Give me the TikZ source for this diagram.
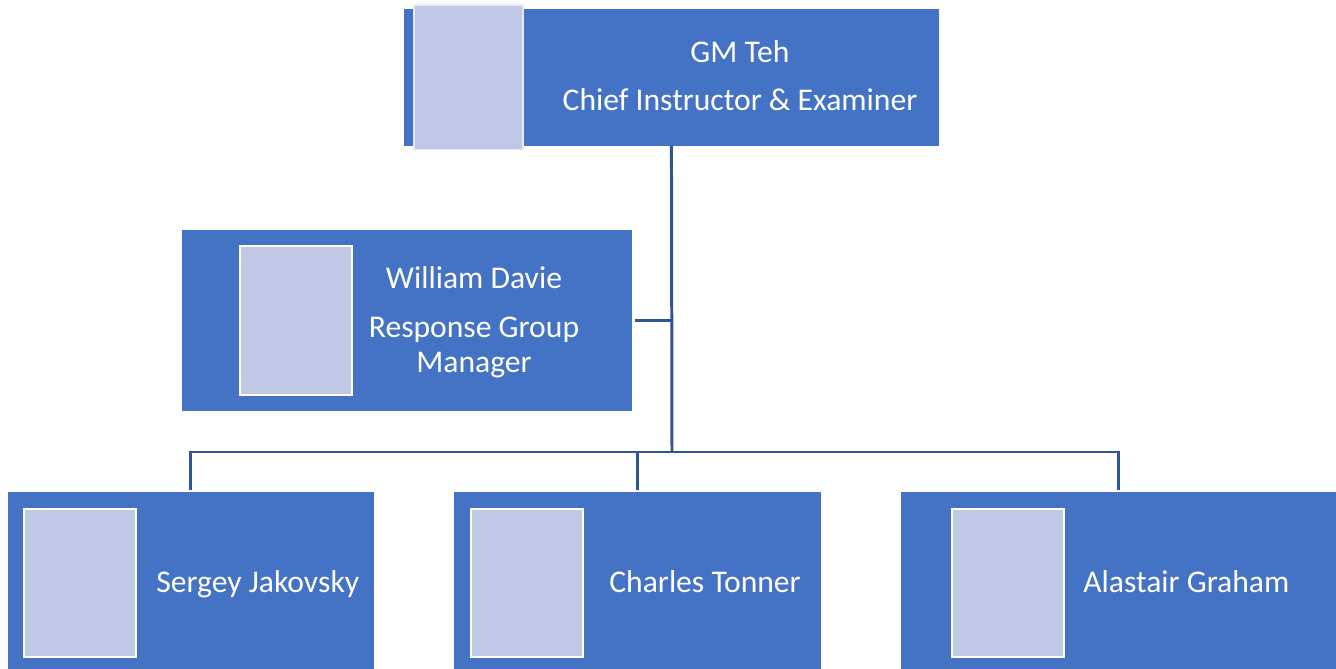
\documentclass[tikz,border=0pt]{standalone}
\usepackage{fontspec}
\setmainfont{Carlito}
\usepackage{xcolor}
\usepackage{tikz}
\usetikzlibrary{positioning}
\definecolor{CardBlue}{RGB}{68,114,196}
\definecolor{PhotoBlue}{RGB}{191,200,228}
\definecolor{LinkBlue}{RGB}{47,85,151}

\begin{document}
\begin{tikzpicture}[
  x=0.02cm, y=-0.02cm,
  font=\fontsize{18}{20}\selectfont,
  card/.style={fill=CardBlue, inner sep=0pt, outer sep=0pt, anchor=north west},
  photo/.style={fill=PhotoBlue, draw=white, line width=1.2pt, inner sep=0pt, outer sep=0pt, anchor=north west},
  who/.style={text=white, inner sep=0pt, align=center},
  orgline/.style={draw=LinkBlue, line width=1.7pt}
]
\useasboundingbox (0,0) rectangle (1336,669);

% top
\node[card, minimum width=10.7cm, minimum height=2.74cm] (teh) at (404,9) {};
\node[photo, draw=white!60!PhotoBlue, line width=0.6pt, minimum width=2.18cm, minimum height=2.9cm] (tehpic) at (414,5) {};
\node[who, anchor=base] (tehname) at (740,63) {GM Teh};
\node[who, anchor=base] (tehrole) at (740,111) {Chief Instructor \& Examiner};

% assistant
\node[card, minimum width=9.0cm, minimum height=3.62cm] (davie) at (182,230) {};
\node[photo, minimum width=2.24cm, minimum height=2.98cm] (daviepic) at (240,246) {};
\node[who, anchor=base] (daviename) at (474,288) {William Davie};
\node[who, anchor=base, font=\fontsize{18}{19.9}\selectfont] (davierole) at (474,372) {Response Group\\Manager};

% instructors
\node[card, minimum width=7.32cm, minimum height=3.54cm] (sergey) at (8,492) {};
\node[photo, minimum width=2.24cm, minimum height=2.96cm] (sergeypic) at (24,509) {};
\node[who, anchor=base west] (sergeyname) at (156,592) {Sergey Jakovsky};

\node[card, minimum width=7.34cm, minimum height=3.54cm] (tonner) at (454,492) {};
\node[photo, minimum width=2.24cm, minimum height=2.96cm] (tonnerpic) at (471,509) {};
\node[who, anchor=base west] (tonnername) at (609,592) {Charles Tonner};

\node[card, minimum width=8.7cm, minimum height=3.54cm] (alastair) at (901,492) {};
\node[photo, minimum width=2.24cm, minimum height=2.96cm] (alastairpic) at (952,509) {};
\node[who, anchor=base west] (alastairname) at (1083,592) {Alastair Graham};

\coordinate (bus) at (672,452);

\draw[orgline] (teh.south) -- (bus);
\draw[orgline, shorten <=0.06cm] (davie.east) -- (davie.east -| bus);
\draw[orgline, shorten <=0.04cm] (sergey.north) |- (bus) -| ([yshift=0.04cm]alastair.north);
\draw[orgline, shorten <=0.04cm] (tonner.north) -- (tonner.north |- bus);
\end{tikzpicture}
\end{document}
